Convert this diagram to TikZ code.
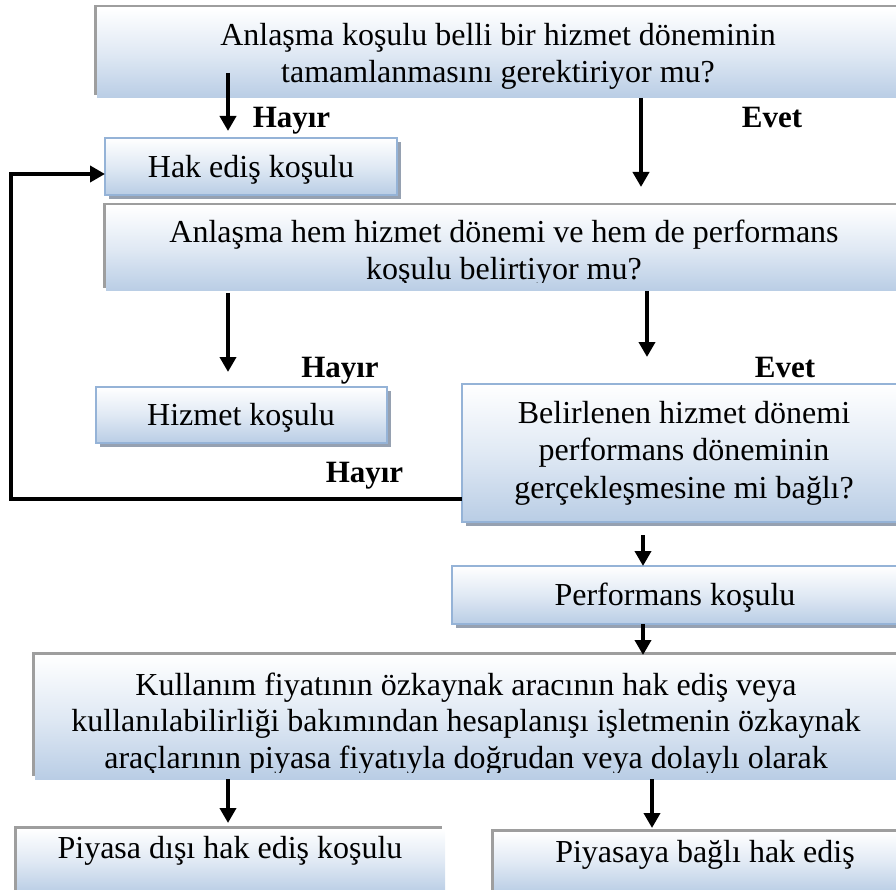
\documentclass[tikz,border=0pt]{standalone}
\usepackage{fontspec}
\setmainfont{Liberation Serif}
\usetikzlibrary{arrows.meta,shadows}
\definecolor{fillblue}{RGB}{185,205,229}
\definecolor{midblue}{RGB}{224,233,244}
\definecolor{bordblue}{RGB}{149,179,215}
\definecolor{shadblue}{RGB}{150,161,177}
\definecolor{shadgray}{RGB}{158,158,158}
\tikzset{
  bx/.style={rectangle, inner sep=0pt, outer sep=0pt, top color=white, bottom color=fillblue, middle color=midblue},
  bluebox/.style={bx, draw=bordblue, line width=2pt, drop shadow={shadow xshift=4pt, shadow yshift=-4pt, fill=shadblue, opacity=1}},
  graybox/.style={bx, drop shadow={shadow xshift=-3pt, shadow yshift=3pt, fill=shadgray, opacity=1}},
  txt/.style={font=\fontsize{32}{37.5}\selectfont, align=center, inner sep=0pt, anchor=base},
  lbl/.style={font=\fontsize{31}{37.5}\selectfont\bfseries, inner sep=0pt, anchor=base},
  arr/.style={line width=4pt, -{Triangle[width=16pt,length=15pt]}},
}
\begin{document}
\begin{tikzpicture}[x=1pt,y=-1pt]
\useasboundingbox (0,0) rectangle (896,890);
\clip (0,0) rectangle (896,890);
% boxes
\node[graybox, minimum width=808, minimum height=90] (b1) at (501,53) {};
\node[bluebox, minimum width=292, minimum height=57] (b2) at (251,166.5) {};
\node[graybox, minimum width=799, minimum height=85] (b3) at (505.5,248.5) {};
\node[bluebox, minimum width=291, minimum height=56] (b4) at (241.5,415) {};
\node[bluebox, minimum width=444, minimum height=138] (b5) at (684,453) {};
\node[bluebox, minimum width=446, minimum height=58] (b6) at (675,595) {};
\node[graybox, minimum width=864, minimum height=124] (b7) at (467,717) {};
\node[graybox, minimum width=428, minimum height=64] (b8) at (231,861) {};
\node[graybox, minimum width=424, minimum height=61] (b9) at (706,862.5) {};
% texts (multi-line nodes: base = baseline of last line)
\node[txt] (t1) at (498,83) {Anlaşma koşulu belli bir hizmet döneminin\\tamamlanmasını gerektiriyor mu?};
\node[txt] (t2) at (251,178) {Hak ediş koşulu};
\begin{scope}
\clip (0,0) rectangle (896,283);
\node[txt] (t3) at (504,280) {Anlaşma hem hizmet dönemi ve hem de performans\\koşulu belirtiyor mu?};
\end{scope}
\node[txt] (t4) at (241,425) {Hizmet koşulu};
\node[txt] (t5) at (684,498) {Belirlenen hizmet dönemi\\performans döneminin\\gerçekleşmesine mi bağlı?};
\node[txt] (t6) at (675,605) {Performans koşulu};
\begin{scope}
\clip (0,0) rectangle (896,772);
\node[txt, font=\fontsize{32}{36.5}\selectfont] (t7) at (466,768) {Kullanım fiyatının özkaynak aracının hak ediş veya\\kullanılabilirliği bakımından hesaplanışı işletmenin özkaynak\\araçlarının piyasa fiyatıyla doğrudan veya dolaylı olarak};
\end{scope}
\node[txt] (t8) at (230,858) {Piyasa dışı hak ediş koşulu};
\node[txt] (t9) at (705,862) {Piyasaya bağlı hak ediş};
% labels
\node[lbl] (h1) at (291.5,128) {Hayır};
\node[lbl] (e1) at (772,128) {Evet};
\node[lbl] (h2) at (340,377) {Hayır};
\node[lbl] (e2) at (785,377) {Evet};
\node[lbl] (h3) at (364.5,482) {Hayır};
% coordinates
\coordinate (s1) at (228,73);
\coordinate (xa) at (228,0);
\coordinate (xb) at (641,0);
\coordinate (xc) at (647,0);
\coordinate (xd) at (643,0);
\coordinate (xe) at (652,0);
\coordinate (xl) at (11,0);
\coordinate (ly) at (0,499);
\coordinate (ry) at (0,174);
% arrows
\draw[arr, shorten >=7pt] (s1) -- (xa |- b2.north);
\draw[arr, shorten >=19pt] (b1.south -| xb) -- (xb |- b3.north);
\draw[arr, shorten >=15pt, shorten <=2pt] (b3.south -| xa) -- (xa |- b4.north);
\draw[arr, shorten >=27pt] (b3.south -| xc) -- (xc |- b5.north);
\draw[arr, shorten <=13pt] (b5.south -| xd) -- (xd |- b6.north);
\draw[arr] (b6.south -| xd) -- (xd |- b7.north);
\draw[arr, shorten >=6pt] (b7.south -| xa) -- (xa |- b8.north);
\draw[arr, shorten >=4pt] (b7.south -| xe) -- (xe |- b9.north);
\draw[arr] (b5.west |- ly) -- (xl |- ly) -- (xl |- ry) -- (b2.west |- ry);
\end{tikzpicture}
\end{document}
